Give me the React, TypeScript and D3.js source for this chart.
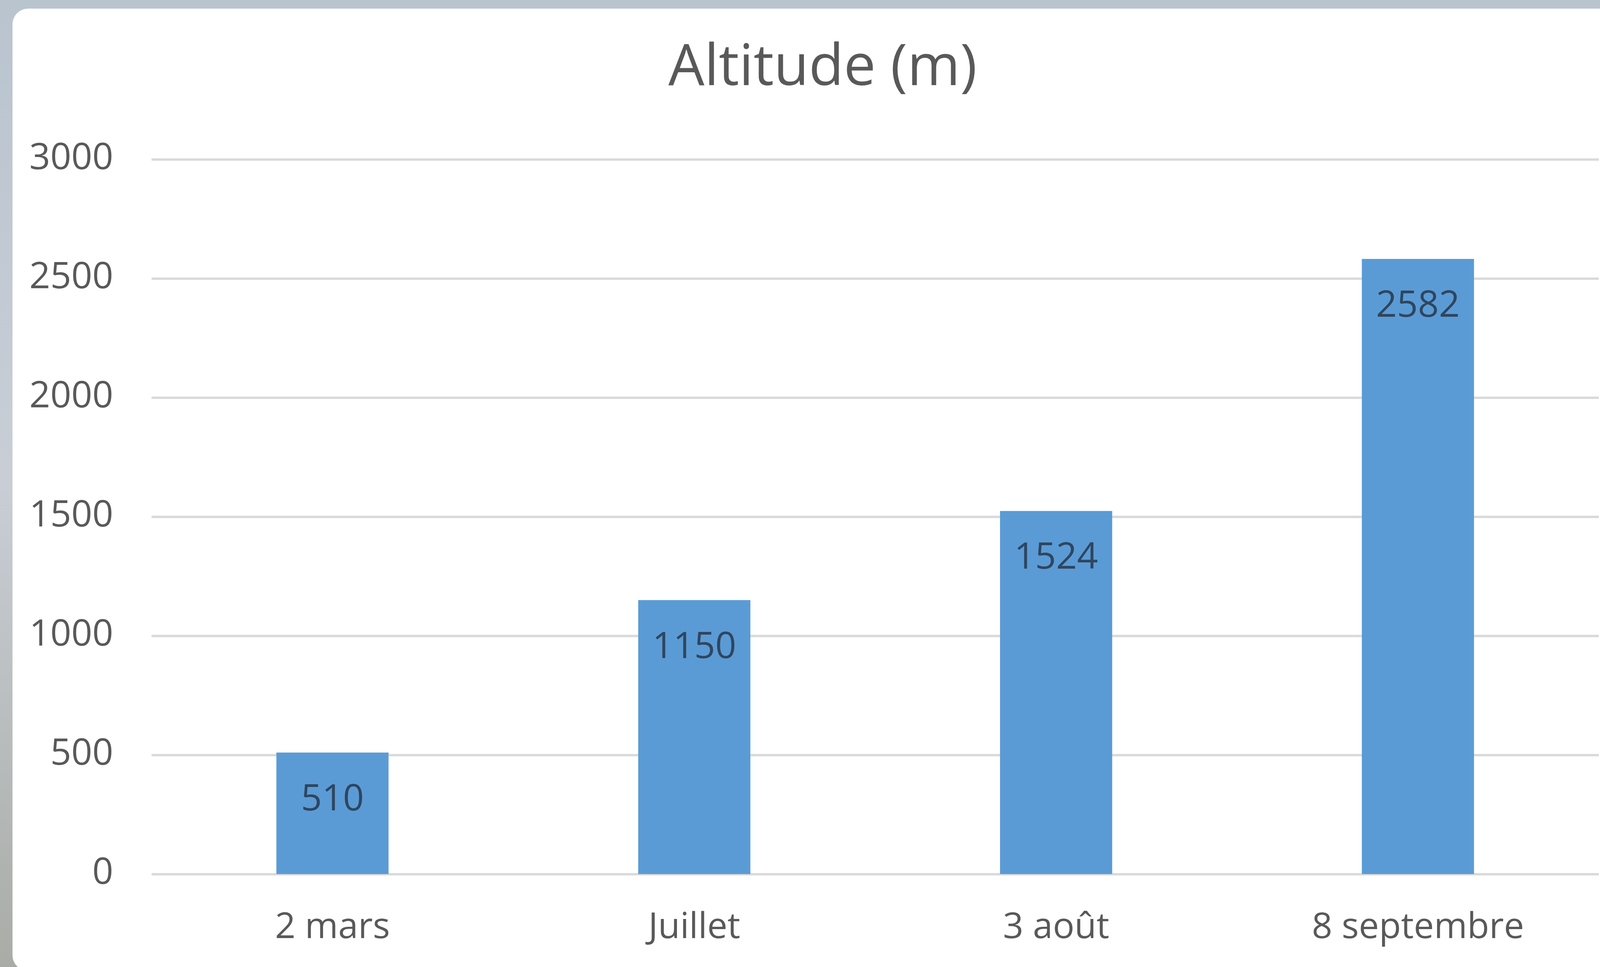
import React, { useEffect, useRef } from 'react';
import * as d3 from 'd3';

const categories = ['2 mars', 'Juillet', '3 août', '8 septembre'];
const altitudes = [510, 1150, 1524, 2582];
const yTicks = [0, 500, 1000, 1500, 2000, 2500, 3000];
const title = 'Altitude (m)';

const WIDTH = 4097;
const HEIGHT = 2476;
const FONT = "'Open Sans', 'Noto Sans', 'DejaVu Sans', sans-serif";

const App: React.FC = () => {
  const svgRef = useRef<SVGSVGElement>(null);

  useEffect(() => {
    if (!svgRef.current) return;
    const svg = d3.select(svgRef.current);
    svg.selectAll('*').remove();

    const plot = { left: 388, right: 4093, top: 408, bottom: 2238 };

    // Backdrop behind the card (screenshot edge)
    const defs = svg.append('defs');
    const grad = defs
      .append('linearGradient')
      .attr('id', 'bg')
      .attr('x1', 0)
      .attr('y1', 0)
      .attr('x2', 0)
      .attr('y2', 1);
    grad.append('stop').attr('offset', '0').attr('stop-color', '#b9c4cf');
    grad.append('stop').attr('offset', '0.5').attr('stop-color', '#c9ced6');
    grad.append('stop').attr('offset', '1').attr('stop-color', '#a9aca6');

    svg.append('rect').attr('width', WIDTH).attr('height', HEIGHT).attr('fill', 'url(#bg)');
    svg
      .append('rect')
      .attr('x', 32)
      .attr('y', 22)
      .attr('width', WIDTH + 200)
      .attr('height', HEIGHT - 22 + 10)
      .attr('rx', 40)
      .attr('fill', '#ffffff');

    // Scales
    const x = d3
      .scaleBand()
      .domain(categories)
      .range([plot.left, plot.right])
      .paddingInner(0.69)
      .paddingOuter(0.345);

    const y = d3.scaleLinear().domain([0, 3000]).range([plot.bottom, plot.top]);

    // Gridlines
    const grid = svg
      .append('g')
      .attr('transform', `translate(${plot.left},0)`)
      .call(
        d3
          .axisLeft(y)
          .tickValues(yTicks)
          .tickSize(-(plot.right - plot.left))
          .tickFormat(() => ''),
      );
    grid.select('.domain').remove();
    grid.selectAll('.tick line').attr('stroke', '#d9d9d9').attr('stroke-width', 6);

    // Y axis labels
    const yAxis = svg
      .append('g')
      .attr('transform', 'translate(290,0)')
      .call(
        d3
          .axisLeft(y)
          .tickValues(yTicks)
          .tickSize(0)
          .tickPadding(0)
          .tickFormat(d3.format('d')),
      );
    yAxis.select('.domain').remove();
    yAxis
      .selectAll('text')
      .attr('dy', 24)
      .attr('font-family', FONT)
      .attr('font-size', 94)
      .attr('fill', '#595959');

    // X axis labels
    const xAxis = svg
      .append('g')
      .attr('transform', `translate(0,${plot.bottom})`)
      .call(d3.axisBottom(x).tickSize(0).tickPadding(0));
    xAxis.select('.domain').remove();
    xAxis
      .selectAll('text')
      .attr('y', 164)
      .attr('dy', 0)
      .attr('font-family', FONT)
      .attr('font-size', 92)
      .attr('fill', '#595959');

    // Bars
    const rows = categories.map((c, i) => ({ category: c, value: altitudes[i] }));

    svg
      .append('g')
      .selectAll('rect')
      .data(rows)
      .enter()
      .append('rect')
      .attr('x', (d) => x(d.category) || 0)
      .attr('y', (d) => y(d.value))
      .attr('width', x.bandwidth())
      .attr('height', (d) => y(0) - y(d.value))
      .attr('fill', '#5b9bd5');

    // Data labels (inside end)
    svg
      .append('g')
      .selectAll('text')
      .data(rows)
      .enter()
      .append('text')
      .attr('x', (d) => (x(d.category) || 0) + x.bandwidth() / 2)
      .attr('y', (d) => y(d.value) + 148)
      .attr('text-anchor', 'middle')
      .attr('font-family', FONT)
      .attr('font-size', 94)
      .attr('fill', '#2e4660')
      .text((d) => d.value);

    // Title
    svg
      .append('text')
      .attr('x', 2106)
      .attr('y', 218)
      .attr('text-anchor', 'middle')
      .attr('font-family', FONT)
      .attr('font-size', 146)
      .attr('fill', '#595959')
      .text(title);
  }, []);

  return (
    <svg
      ref={svgRef}
      width={WIDTH}
      height={HEIGHT}
      style={{ position: 'absolute', left: 0, top: 0, display: 'block' }}
    />
  );
};

export default App;
